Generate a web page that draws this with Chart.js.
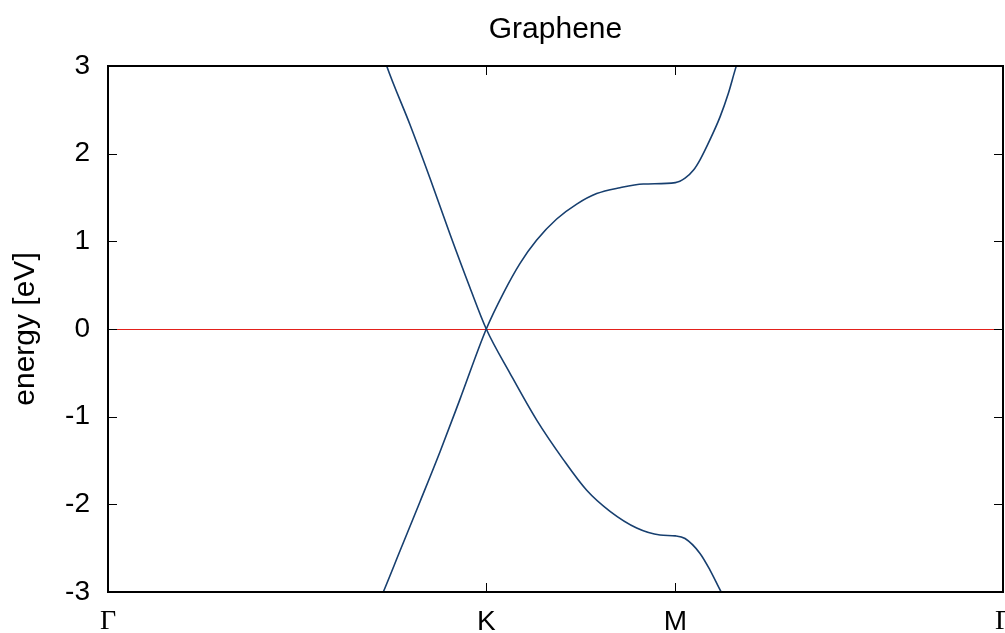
<!DOCTYPE html>
<html>
<head>
<meta charset="utf-8">
<script src="https://cdn.jsdelivr.net/npm/chart.js@4/dist/chart.umd.min.js"></script>
<style>
  html, body { margin: 0; padding: 0; background: #ffffff; }
  #wrap { width: 1005px; height: 633px; }
</style>
</head>
<body>
<div id="wrap"><canvas id="c" width="1005" height="633"></canvas></div>
<script>
// ---- data (k-path coordinate in units of 2π/a, energy in eV) ----
const chartTitle = 'Graphene';
const yAxisTitle = 'energy [eV]';

const kTickValues = [0, 0.6667, 1.0, 1.5774];
const kTickLabels = ['Γ', 'K', 'M', 'Γ'];

const yTickValues = [-3, -2, -1, 0, 1, 2, 3];

const bandA_k = [0.4794, 0.4912, 0.5323, 0.5675, 0.6028, 0.6380, 0.6667, 0.7085, 0.7556, 0.8025, 0.8437, 0.8848, 0.9318, 0.9729, 1.0000, 1.0170, 1.0434, 1.0610, 1.0799, 1.0875];
const bandA_E = [3.24,   3.00,   2.33,   1.72,   1.08,   0.47,   0.00,  -0.505, -1.04,  -1.49,  -1.84,  -2.08,  -2.27,  -2.35,  -2.36,  -2.39,  -2.56,  -2.75,  -2.99,  -3.08];

const bandB_k = [0.4759, 0.4852, 0.5147, 0.5499, 0.5852, 0.6204, 0.6667, 0.6967, 0.7262, 0.7556, 0.7908, 0.8261, 0.8613, 0.9024, 0.9435, 1.0000, 1.0170, 1.0316, 1.0434, 1.0610, 1.0787, 1.0934, 1.1069, 1.1139];
const bandB_E = [-3.14,  -3.00,  -2.53,  -1.97,  -1.40,  -0.80,   0.00,   0.407,  0.749,  1.015,  1.255,  1.425,  1.545,  1.612,  1.654,  1.67,   1.72,   1.81,   1.93,   2.16,   2.42,   2.69,   2.99,   3.12];

const fermiLevel = 0;

// ---- build ----
const toPts = (ks, es) => ks.map((k, i) => ({ x: k, y: es[i] }));
const kMin = kTickValues[0];
const kMax = kTickValues[kTickValues.length - 1];

const zeroLine = {
  id: 'zeroLine',
  beforeDatasetsDraw(chart) {
    const { ctx, scales } = chart;
    const py = Math.round(scales.y.getPixelForValue(fermiLevel));
    const x0 = scales.x.getPixelForValue(kMin);
    const x1 = scales.x.getPixelForValue(kMax);
    ctx.save();
    ctx.fillStyle = '#e3211b';
    ctx.fillRect(x0, py, x1 - x0, 1);
    ctx.restore();
  }
};

const frameTicks = {
  id: 'frameTicks',
  afterDraw(chart) {
    const { ctx, chartArea: a, scales } = chart;
    const L = 9;
    ctx.save();
    ctx.strokeStyle = '#000000';
    ctx.lineWidth = 1;
    ctx.beginPath();
    scales.y.ticks.forEach(t => {
      const py = Math.round(scales.y.getPixelForValue(t.value)) + 0.5;
      ctx.moveTo(a.left, py); ctx.lineTo(a.left + L, py);
      ctx.moveTo(a.right, py); ctx.lineTo(a.right - L, py);
    });
    scales.x.ticks.forEach(t => {
      const px = Math.round(scales.x.getPixelForValue(t.value)) + 0.5;
      ctx.moveTo(px, a.bottom); ctx.lineTo(px, a.bottom - L);
      ctx.moveTo(px, a.top); ctx.lineTo(px, a.top + L);
    });
    ctx.stroke();
    ctx.lineWidth = 2;
    ctx.strokeRect(Math.round(a.left), Math.round(a.top), Math.round(a.right) - Math.round(a.left), Math.round(a.bottom) - Math.round(a.top));
    // title centred on plot area
    ctx.fillStyle = '#000000';
    ctx.font = '30px "Liberation Sans", Arial, sans-serif';
    ctx.textAlign = 'center';
    ctx.textBaseline = 'middle';
    ctx.fillText(chartTitle, (a.left + a.right) / 2, 30);
    ctx.restore();
  }
};

const bandColor = '#173f6f';

new Chart(document.getElementById('c'), {
  type: 'line',
  data: {
    datasets: [
      {
        data: toPts(bandA_k, bandA_E),
        borderColor: bandColor, borderWidth: 1.6, pointRadius: 0,
        cubicInterpolationMode: 'monotone'
      },
      {
        data: toPts(bandB_k, bandB_E),
        borderColor: bandColor, borderWidth: 1.6, pointRadius: 0,
        cubicInterpolationMode: 'monotone'
      }
    ]
  },
  options: {
    responsive: false,
    animation: false,
    devicePixelRatio: 1,
    layout: { padding: { top: 66, left: 0, right: 2, bottom: 0 } },
    plugins: { legend: { display: false }, tooltip: { enabled: false }, title: { display: false } },
    scales: {
      x: {
        type: 'linear',
        min: kMin, max: kMax,
        grid: { display: false, drawTicks: false },
        border: { display: false },
        afterBuildTicks(scale) { scale.ticks = kTickValues.map(v => ({ value: v })); },
        afterFit(scale) { scale.height = 41; scale.paddingLeft = 0; scale.paddingRight = 0; },
        ticks: {
          autoSkip: false, maxRotation: 0, minRotation: 0,
          padding: 13,
          color: '#000000',
          font: (ctx) => ({
            family: kTickLabels[ctx.index] === 'Γ' ? '"Liberation Serif", "Times New Roman", serif' : '"Liberation Sans", Arial, sans-serif',
            size: 28
          }),
          callback: (v, i) => kTickLabels[i]
        }
      },
      y: {
        type: 'linear',
        min: -3, max: 3,
        grid: { display: false, drawTicks: false },
        border: { display: false },
        afterBuildTicks(scale) { scale.ticks = yTickValues.map(v => ({ value: v })); },
        afterFit(scale) { scale.width = 108; scale.paddingTop = 0; scale.paddingBottom = 0; },
        ticks: {
          padding: 18,
          color: '#000000',
          font: { family: '"Liberation Sans", Arial, sans-serif', size: 28 },
          callback: (v) => String(v)
        },
        title: {
          display: true,
          text: yAxisTitle,
          color: '#000000',
          font: { family: '"Liberation Sans", Arial, sans-serif', size: 30 },
          padding: { top: 8, bottom: 0 }
        }
      }
    }
  },
  plugins: [zeroLine, frameTicks]
});
</script>
</body>
</html>
